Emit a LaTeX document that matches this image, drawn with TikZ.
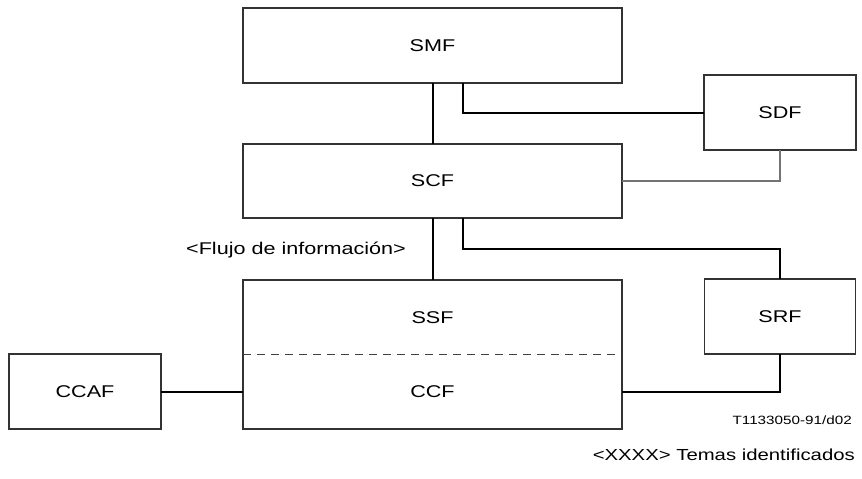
\documentclass[tikz,border=0pt]{standalone}
\usepackage{fontspec}
\setmainfont{Liberation Sans}[FakeStretch=1.27]
\usetikzlibrary{calc}
\begin{document}
\begin{tikzpicture}[x=1pt,y=-1pt,
  fbox/.style={draw=black!80,line width=1.2pt,inner sep=0pt,outer sep=0pt,
    font=\fontsize{17}{20}\selectfont},
  conn/.style={draw=black,line width=2pt},
  gconn/.style={draw=black!55,line width=1.4pt},
  lbl/.style={inner sep=0pt,font=\fontsize{17}{20}\selectfont}]
\useasboundingbox (0,0) rectangle (862,479);
\node[fbox,minimum width=379pt,minimum height=75pt] (smf) at (432.5,45.5) {SMF};
\node[fbox,minimum width=152pt,minimum height=75pt] (sdf) at (780,112.5) {SDF};
\node[fbox,minimum width=379pt,minimum height=74pt] (scf) at (432.5,181) {SCF};
\node[fbox,minimum width=379pt,minimum height=149pt] (main) at (432.5,354.5) {};
\node[fbox,minimum width=151pt,minimum height=75pt] (srf) at (780,316.5) {SRF};
\node[fbox,minimum width=152pt,minimum height=75pt] (ccaf) at (85,391.5) {CCAF};
\node[lbl] (ssf) at (432.5,318) {SSF};
\node[lbl] (ccf) at (432.5,391.5) {CCF};
\coordinate (dl) at (243,354);
\draw[draw=black!75,line width=0.9pt,dash pattern=on 8pt off 6pt] (dl) -- (dl -| main.east);
\node[lbl] (flujo) at (296,250) {<Flujo de información>};
\node[inner sep=0pt,anchor=east,font=\fontsize{12}{14}\selectfont] (code) at (852,420) {T1133050-91/d02};
\node[inner sep=0pt,anchor=east,font=\fontsize{16}{19}\selectfont] (temas) at (855,455) {<XXXX> Temas identificados};
% connectors
\draw[conn] (smf.south) -- (scf.north);
\draw[conn] ($(smf.south)+(30,0)$) |- (sdf.west);
\draw[gconn] (scf.east) -| (sdf.south);
\draw[conn] (scf.south) -- (main.north);
\draw[conn] ($(scf.south)+(30,0)$) -- ++(0,31) -| (srf.north);
\draw[conn] (srf.south) |- (ccf -| main.east);
\draw[conn] (ccaf.east) -- (ccaf.east -| main.west);
\end{tikzpicture}
\end{document}
